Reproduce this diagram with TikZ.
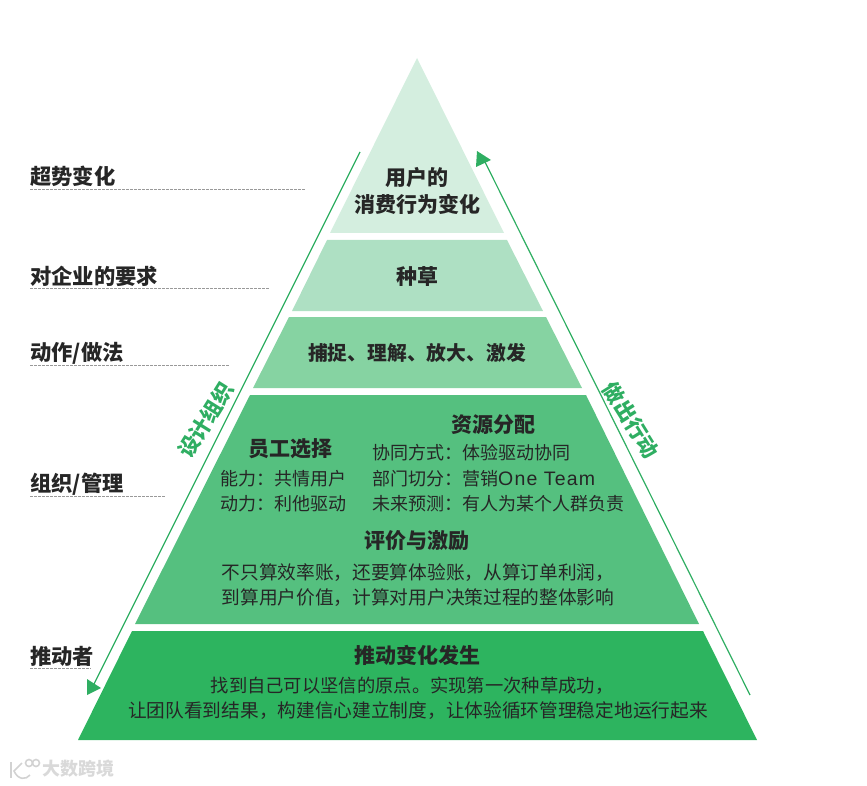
\documentclass[tikz,border=0pt]{standalone}
\usepackage{fontspec}
\setmainfont{Noto Sans CJK SC}
\newfontfamily\latinf[LetterSpace=6]{Liberation Sans}
\definecolor{tierA}{HTML}{D4EEDF}
\definecolor{tierB}{HTML}{AEE0C3}
\definecolor{tierC}{HTML}{86D3A2}
\definecolor{tierD}{HTML}{55C07F}
\definecolor{tierE}{HTML}{2DB45F}
\definecolor{arrowgreen}{HTML}{2FAE62}
\definecolor{ink}{HTML}{262626}
\tikzset{
  side/.style={font=\fontsize{21.3}{24}\selectfont\bfseries,text=ink,anchor=west,inner sep=0pt},
  head/.style={font=\fontsize{21}{24}\selectfont\bfseries,text=ink,inner sep=0pt},
  heads/.style={font=\fontsize{19.8}{24}\selectfont\bfseries,text=ink,inner sep=0pt},
  body/.style={font=\fontsize{18}{24}\selectfont,text=ink,inner sep=0pt},
  bodyw/.style={font=\fontsize{18.7}{24}\selectfont,text=ink,inner sep=0pt},
  bodyn/.style={font=\fontsize{18.3}{24}\selectfont,text=ink,inner sep=0pt},
  leader/.style={draw=gray!80,line width=0.5pt,dash pattern=on 2.5pt off 1.5pt},
  flow/.style={draw=arrowgreen,line width=1.2pt},
  flowlabel/.style={font=\fontsize{21}{24}\selectfont\bfseries,text=arrowgreen,inner sep=0pt},
}
\begin{document}
\begin{tikzpicture}[x=1pt,y=-1pt]
\useasboundingbox (0,0) rectangle (867,786);
% pyramid tiers
\fill[tierA] (417,58) -- (504,233) -- (330,233) -- cycle;
\fill[tierB] (507,240) -- (543,311) -- (292,311) -- (327,240) -- cycle;
\fill[tierC] (546,317) -- (582,388) -- (253,388) -- (289,317) -- cycle;
\fill[tierD] (586,395) -- (699,624) -- (135,624) -- (250,395) -- cycle;
\fill[tierE] (703,631) -- (757,740) -- (78,740) -- (132,631) -- cycle;
% side labels
\node[side] (s1) at (30,176) {超势变化};
\node[side] (s2) at (30,276) {对企业的要求};
\node[side] (s3) at (30,353) {动作/做法};
\node[side] (s4) at (30,484) {组织/管理};
\node[side] (s5) at (30,656) {推动者};
\coordinate (e1a) at (30,189); \coordinate (e1b) at (305,189);
\coordinate (e2a) at (30,288); \coordinate (e2b) at (270,288);
\coordinate (e3a) at (30,365); \coordinate (e3b) at (229,365);
\coordinate (e4a) at (30,496); \coordinate (e4b) at (166,496);
\coordinate (e5a) at (30,668); \coordinate (e5b) at (91,668);
\draw[leader] (e1a) -- (e1b);
\draw[leader] (e2a) -- (e2b);
\draw[leader] (e3a) -- (e3b);
\draw[leader] (e4a) -- (e4b);
\draw[leader] (e5a) -- (e5b);
% flow arrows
\coordinate (la) at (360,152); \coordinate (lb) at (93,686);
\coordinate (ra) at (750,695); \coordinate (rb) at (484,160);
\draw[flow] (la) -- (lb);
\draw[flow] (ra) -- (rb);
\fill[arrowgreen] (87,679) -- (101,688) -- (87,695) -- cycle;
\fill[arrowgreen] (477,151) -- (491,160) -- (476,167) -- cycle;
\node[flowlabel,rotate=58] (ll) at (206,420) {设计组织};
\node[flowlabel,rotate=-58] (rl) at (631,420) {做出行动};
% tier 1
\node[head] (t1a) at (417,178) {用户的};
\node[head] (t1b) at (417,204) {消费行为变化};
% tier 2, 3
\node[head] (t2) at (417,277) {种草};
\node[heads] (t3) at (417,353) {捕捉、理解、放大、激发};
% tier 4
\node[head] (t4a) at (290,449) {员工选择};
\node[body] (t4b) at (283,479) {能力：共情用户};
\node[body] (t4c) at (283,504) {动力：利他驱动};
\node[head] (t4d) at (493,425) {资源分配};
\node[body,anchor=west] (t4e) at (372,453) {协同方式：体验驱动协同};
\node[body,anchor=west] (t4f) at (372,479) {部门切分：营销{\latinf\fontsize{19.5}{24}\selectfont One Team}};
\node[body,anchor=west] (t4g) at (372,504) {未来预测：有人为某个人群负责};
\node[head] (t4h) at (417,541) {评价与激励};
\node[bodyw] (t4i) at (418,573) {不只算效率账，还要算体验账，从算订单利润，};
\node[bodyw] (t4j) at (418,598) {到算用户价值，计算对用户决策过程的整体影响};
% tier 5
\node[head] (t5a) at (417,655) {推动变化发生};
\node[bodyn] (t5b) at (412,686) {找到自己可以坚信的原点。实现第一次种草成功，};
\node[bodyw] (t5c) at (418,711) {让团队看到结果，构建信心建立制度，让体验循环管理稳定地运行起来};
% watermark
\begin{scope}[draw=gray!35,line width=1.6pt,fill=none]
\draw (11,762) -- (11,778);
\draw (22,763) -- (14,771) .. controls (18,780) and (26,780) .. (30,775);
\draw (29,763) circle (3.5);
\draw (36,763) circle (3.5);
\end{scope}
\node[font=\fontsize{18}{20}\selectfont\bfseries,text=gray!30,inner sep=0pt,anchor=west] (wm) at (42,769) {大数跨境};
\end{tikzpicture}
\end{document}
